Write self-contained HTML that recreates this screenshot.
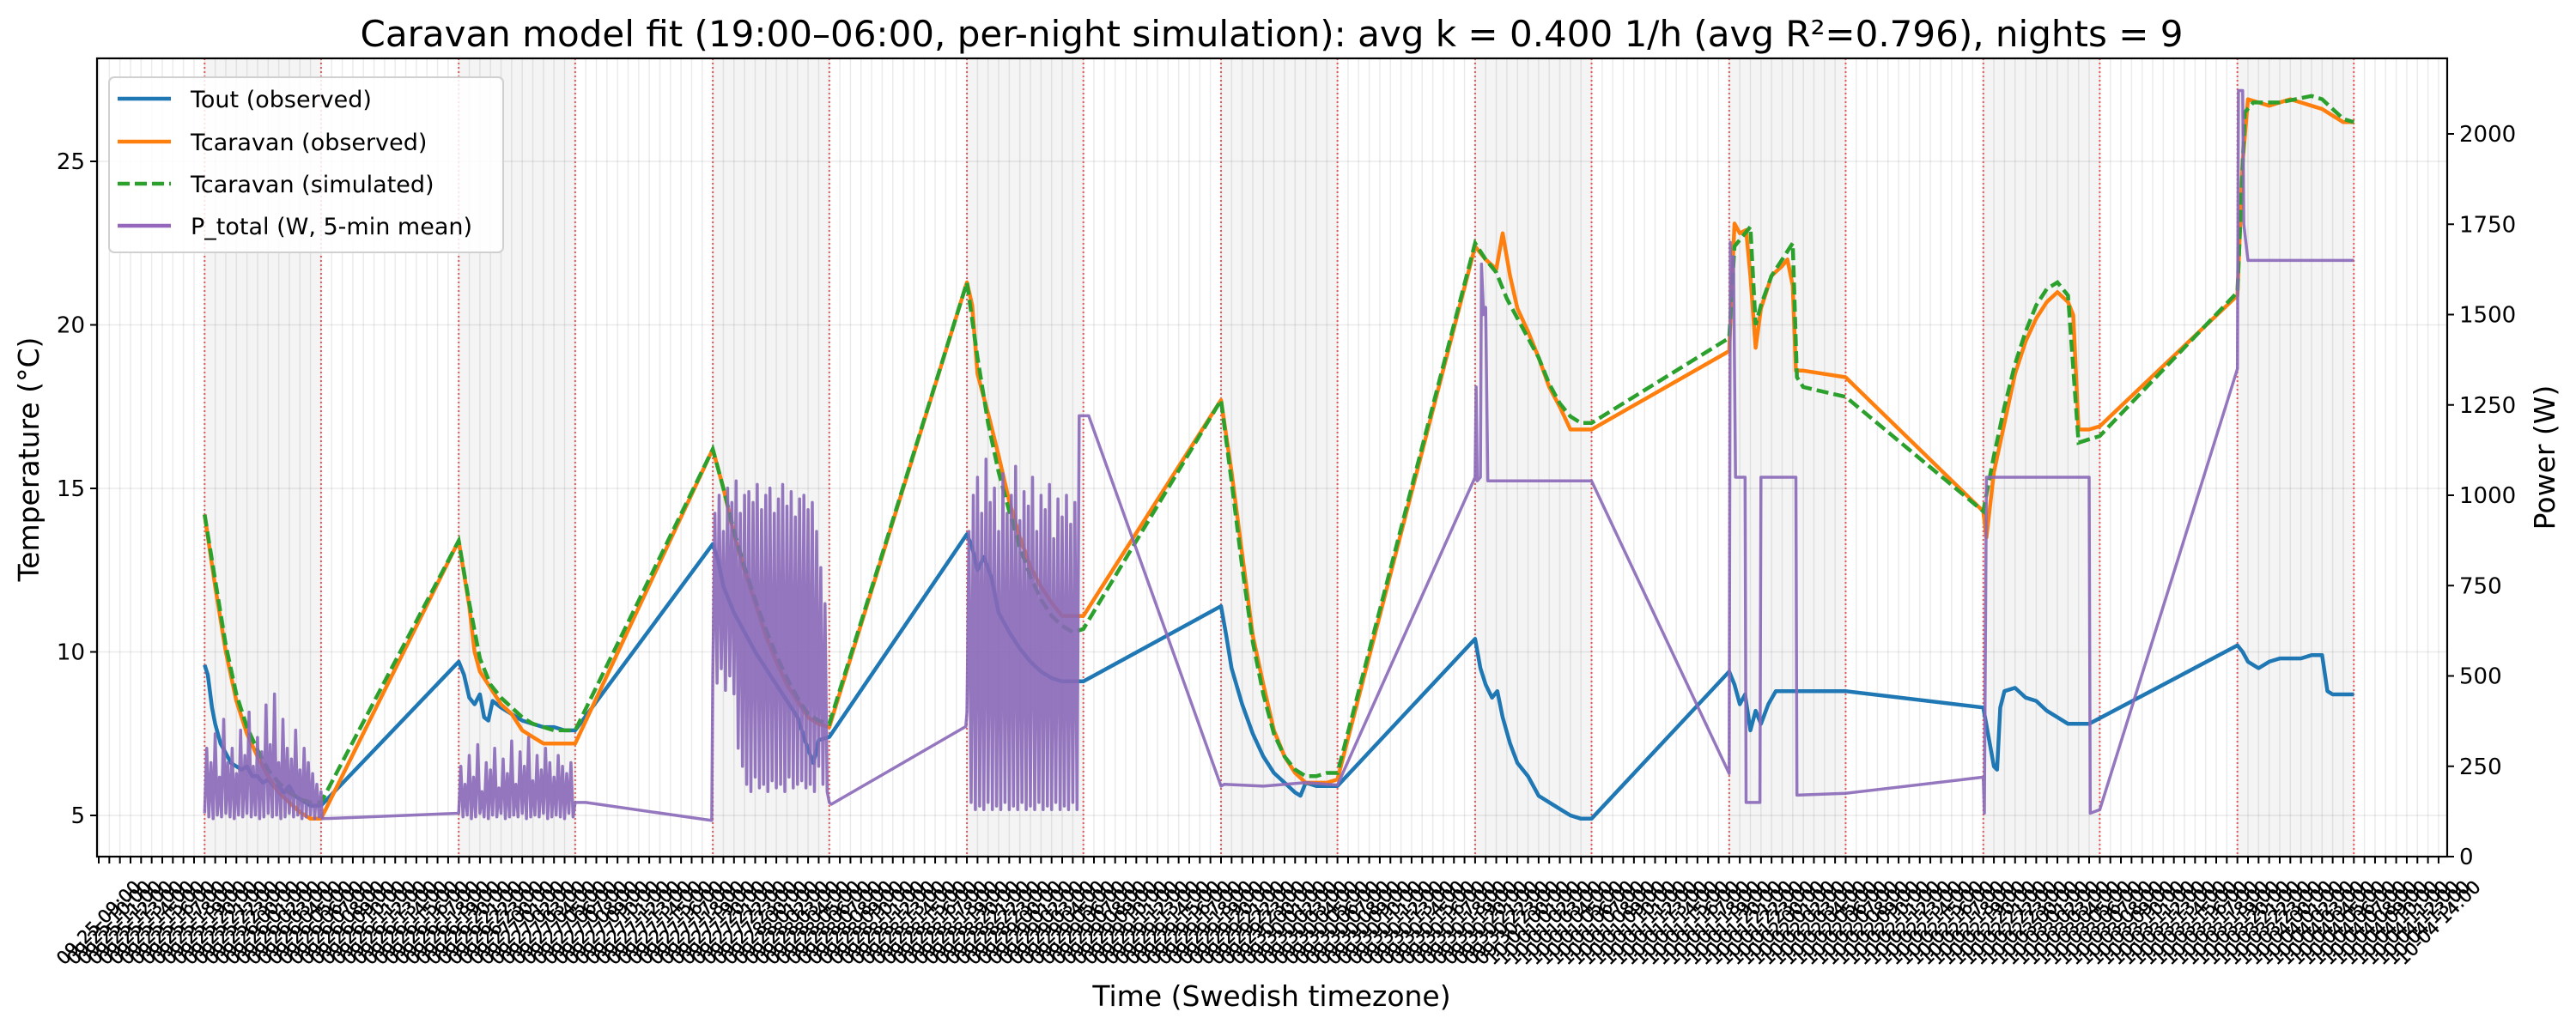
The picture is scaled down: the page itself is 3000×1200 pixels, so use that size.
<!DOCTYPE html>
<html><head><meta charset="utf-8">
<style>
html,body{margin:0;padding:0;background:#fff;}
svg{display:block;font-family:"DejaVu Sans","Liberation Sans",sans-serif;}
</style></head>
<body>
<svg id="chart" width="3000" height="1200" viewBox="0 0 3000 1200" xmlns="http://www.w3.org/2000/svg">
  <rect x="0" y="0" width="3000" height="1200" fill="#fff"/>
  <g id="shade"></g>
  <g id="grid"></g>
  <g id="nightlines"></g>
  <g id="series"></g>
  <rect x="113" y="68" width="2737" height="930" fill="none" stroke="#000" stroke-width="2.2"/>
  <g id="axes"></g>
  <text x="1481" y="54" font-size="42" text-anchor="middle">Caravan model fit (19:00–06:00, per-night simulation): avg k = 0.400 1/h (avg R²=0.796), nights = 9</text>
  <text transform="translate(45,535) rotate(-90)" font-size="33" text-anchor="middle">Temperature (°C)</text>
  <text transform="translate(2975,533) rotate(-90)" font-size="33" text-anchor="middle">Power (W)</text>
  <text x="1481" y="1172" font-size="33" text-anchor="middle">Time (Swedish timezone)</text>
  <g>
    <rect x="127" y="90" width="459" height="204" rx="6" fill="#fff" fill-opacity="0.85" stroke="#d0d0d0" stroke-width="2"/>
    <g><line x1="137" y1="115" x2="199" y2="115" stroke="#1f77b4" stroke-width="4.5"/><text x="222" y="125" font-size="27">Tout (observed)</text></g>
    <g><line x1="137" y1="165" x2="199" y2="165" stroke="#ff7f0e" stroke-width="4.5"/><text x="222" y="175" font-size="27">Tcaravan (observed)</text></g>
    <g><line x1="137" y1="214" x2="199" y2="214" stroke="#2ca02c" stroke-width="4.5" stroke-dasharray="14,6"/><text x="222" y="224" font-size="27">Tcaravan (simulated)</text></g>
    <g><line x1="137" y1="263" x2="199" y2="263" stroke="#9467bd" stroke-width="4.5"/><text x="222" y="273" font-size="27">P_total (W, 5-min mean)</text></g>
  </g>
</svg>
<script>
// ---- data (hours since 09-25 09:00) ----
const nightStarts = [10,34,58,82,106,130,154,178,202];
const nightLen = 11;
const tempTicks = [5,10,15,20,25];
const powerTicks = [0,250,500,750,1000,1250,1500,1750,2000];
const tickCount = 223;
const startDay = 25, startHour = 9;

const tout = [[10,9.6],[10.3,9.3],[10.7,8.3],[11,7.8],[11.5,7.2],[12,6.9],[12.5,6.6],[13,6.5],[13.5,6.4],[14,6.5],[14.5,6.2],[15,6.2],[15.5,6.0],[16,6.1],[16.5,5.9],[17,5.9],[17.5,5.7],[18,5.9],[18.5,5.6],[19,5.5],[20,5.3],[21,5.3],
[34,9.7],[34.5,9.3],[35,8.6],[35.5,8.4],[36,8.7],[36.4,8.0],[36.8,7.9],[37.2,8.5],[38,8.3],[39,8.1],[40,7.9],[41,7.8],[42,7.7],[43,7.7],[44,7.6],[45,7.6],
[58,13.3],[58.5,12.8],[59,12.0],[60,11.2],[61,10.6],[62,10.0],[63,9.5],[64,9.0],[65,8.5],[66,8.0],[66.8,7.2],[67.5,6.6],[68,7.3],[69,7.4],
[82,13.6],[82.5,13.2],[83,12.5],[83.6,12.9],[84.3,12.3],[85,11.2],[86,10.6],[87,10.1],[88,9.7],[89,9.4],[90,9.2],[91,9.1],[92,9.1],[93,9.1],
[106,11.4],[106.5,10.5],[107,9.5],[108,8.4],[109,7.5],[110,6.8],[111,6.3],[112,6.0],[113,5.7],[113.5,5.6],[114,6.0],[115,5.9],[116,5.9],[117,5.9],
[130,10.4],[130.5,9.5],[131,9.0],[131.6,8.6],[132.1,8.8],[132.6,8.0],[133.3,7.2],[134,6.6],[135,6.2],[136,5.6],[137,5.4],[138,5.2],[139,5.0],[140,4.9],[141,4.9],
[154,9.4],[154.5,9.0],[155,8.4],[155.5,8.7],[156,7.6],[156.5,8.2],[157,7.8],[157.7,8.4],[158.4,8.8],[160,8.8],[165,8.8],
[178,8.3],[178.5,7.4],[179,6.5],[179.3,6.4],[179.6,8.3],[180,8.8],[181,8.9],[182,8.6],[183,8.5],[184,8.2],[185,8.0],[186,7.8],[187,7.8],[188,7.8],
[202,10.2],[202.5,10.0],[203,9.7],[204,9.5],[205,9.7],[206,9.8],[207,9.8],[208,9.8],[209,9.9],[210,9.9],[210.5,8.8],[211,8.7],[212,8.7],[213,8.7]];

const tcar = [[10,14.2],[11,12.0],[12,10.0],[13,8.5],[14,7.5],[15,6.8],[16,6.2],[17,5.7],[18,5.4],[19,5.1],[20,4.9],[21,4.9],
[34,13.4],[35,11.4],[35.5,10.0],[36,9.4],[37,8.9],[38,8.4],[39,8.1],[40,7.6],[41,7.4],[42,7.2],[44,7.2],[45,7.2],
[58,16.2],[59,15.0],[60,13.6],[61,12.5],[62,11.5],[63,10.5],[64,9.7],[65,9.0],[66,8.5],[67,8.0],[68,7.8],[69,7.7],
[82,21.3],[82.5,20.6],[83,18.5],[84,17.3],[85,16.0],[86,14.6],[87,13.5],[88,12.6],[89,12.0],[90,11.5],[91,11.1],[92,11.1],[93,11.1],
[106,17.7],[107,15.5],[108,13.0],[109,10.5],[110,9.0],[111,7.6],[112,6.8],[113,6.3],[114,6.0],[115,6.0],[116,6.0],[117,6.1],
[130,22.4],[131,22.0],[132,21.7],[132.6,22.8],[133.3,21.5],[134,20.5],[135,19.8],[136,19.0],[137,18.1],[138,17.5],[139,16.8],[140,16.8],[141,16.8],
[154,19.2],[154.5,23.1],[155,22.8],[155.6,22.9],[156,21.5],[156.5,19.3],[157,20.5],[158,21.5],[159,21.8],[159.5,22.0],[160,21.2],[160.3,18.6],[161,18.6],[165,18.4],
[178,14.3],[178.3,13.5],[179,15.5],[180,17.0],[181,18.5],[182,19.5],[183,20.2],[184,20.7],[185,21.0],[186,20.7],[186.5,20.3],[187,16.8],[188,16.8],[189,16.9],
[202,20.9],[202.5,25.0],[203,26.9],[204,26.8],[205,26.7],[206,26.8],[207,26.9],[208,26.8],[209,26.7],[210,26.6],[211,26.4],[212,26.2],[213,26.2]];

const tsim = [[10,14.2],[11,12.2],[12,10.2],[13,8.7],[14,7.7],[15,7.0],[16,6.4],[17,6.0],[18,5.7],[19,5.5],[20,5.4],[21,5.4],
[34,13.4],[35,11.5],[36,9.8],[37,9.0],[38,8.6],[39,8.3],[40,8.0],[41,7.8],[42,7.7],[43,7.6],[45,7.6],
[58,16.2],[59,15.0],[60,13.7],[61,12.6],[62,11.6],[63,10.7],[64,9.9],[65,9.2],[66,8.6],[67,8.1],[68,7.9],[69,7.8],
[82,21.3],[83,19.0],[84,17.0],[85,15.5],[86,14.3],[87,13.2],[88,12.3],[89,11.6],[90,11.1],[91,10.8],[92,10.6],[93,10.7],
[106,17.7],[107,15.2],[108,12.6],[109,10.3],[110,8.7],[111,7.5],[112,6.8],[113,6.4],[114,6.2],[115,6.2],[116,6.3],[117,6.3],
[130,22.5],[131,22.0],[132,21.6],[133,20.8],[134,20.2],[135,19.6],[136,19.0],[137,18.2],[138,17.6],[139,17.2],[140,17.0],[141,17.0],
[154,19.6],[154.5,22.4],[155,22.6],[156,23.0],[156.5,20.0],[157,20.6],[158,21.5],[159,22.0],[160,22.5],[160.4,18.4],[161,18.1],[165,17.8],
[178,14.3],[179,16.0],[180,17.5],[181,18.8],[182,19.8],[183,20.6],[184,21.1],[185,21.3],[186,20.9],[187,16.4],[188,16.5],[189,16.6],
[202,21.0],[202.7,26.5],[203.5,26.8],[206,26.8],[209,27.0],[210,26.9],[212,26.3],[213,26.2]];

const powerStep = 0.2;
const pNight1 = [120,300,110,260,105,340,115,220,110,380,120,260,110,300,105,230,115,350,110,280,120,400,110,250,115,330,105,290,110,420,120,310,110,450,115,260,105,380,110,300,120,270,110,350,115,240,105,300,110,260,115,230,105,200,110,180];
const pNight2 = [120,250,110,200,115,280,105,220,110,310,120,180,110,260,105,240,115,300,110,190,120,270,105,230,110,320,115,200,110,290,120,250,105,330,110,210,115,280,110,240,120,300,105,260,110,220,115,280,110,250,105,230,120,260,110,150];
const pNight3 = [500,950,480,1000,520,900,460,1020,500,980,450,1040,300,950,250,1000,200,1010,180,980,220,1030,190,960,200,1000,180,1020,210,950,190,990,200,1030,180,970,220,1010,190,940,200,990,210,1000,190,960,200,980,180,900,250,800,200,700,180,150];
const pNight4 = [400,900,150,1000,130,1050,140,950,130,1100,150,980,130,1020,140,900,130,1060,150,950,130,1000,140,1080,130,930,150,1010,130,970,140,1050,130,900,150,1000,130,960,140,1030,130,880,150,990,130,940,140,1000,130,920,150,980,130];
const pAfter1 = [[21.1,105]];
const pAfter2 = [[45.1,150],[46,150],[57.9,100]];
const pAfter3 = [[69.2,145],[81.9,360]];
const pAfter4 = [[92.6,1220],[93.5,1220],[106,195],[106.3,200],[110,195],[114,205],[117,198],[130,1050],[130.1,1300],[130.2,1040],[130.5,1050],[130.6,1640],[130.8,1500],[131,1520],[131.2,1040],[141,1040],[154,230],[154.1,1700],[154.2,1550],[154.4,1660],[154.6,1050],[155.5,1050],[155.6,150],[156.9,150],[157,1050],[160.3,1050],[160.4,170],[165,175],[178,220],[178.1,120],[178.3,1050],[188,1050],[188.1,120],[189,130],[202,1350],[202.1,2120],[202.5,2120],[202.6,1750],[203,1650],[213,1650]];

// ---- scales ----
const X0 = 113, X1 = 2850, Y0 = 68, Y1 = 998;
const xs = h => 115 + h * 12.33;
const yt = t => 950 - (t - 5) * 38.1;
const yp = p => 998 - p * 0.421;
const NS = 'http://www.w3.org/2000/svg';
function mk(tag, attrs, parent) {
  const e = document.createElementNS(NS, tag);
  for (const k in attrs) e.setAttribute(k, attrs[k]);
  parent.appendChild(e);
  return e;
}
const shade = document.getElementById('shade');
const grid = document.getElementById('grid');
const nl = document.getElementById('nightlines');
const ser = document.getElementById('series');
const axes = document.getElementById('axes');

nightStarts.forEach(s => {
  const r = mk('rect', {x: xs(s), y: Y0, width: xs(s + nightLen) - xs(s), height: Y1 - Y0, fill: '#808080', 'fill-opacity': 0.09}, shade);
  
  
  [s, s + nightLen].forEach(h => {
    const l = mk('line', {x1: xs(h), x2: xs(h), y1: Y0, y2: Y1, stroke: '#e83030', 'stroke-opacity': 0.8, 'stroke-width': 2, 'stroke-dasharray': '2,3'}, nl);
    
    
  });
});

const pad = n => String(n).padStart(2, '0');
for (let i = 0; i < tickCount; i++) {
  const x = xs(i);
  if (x < X0 || x > X1) continue;
  const g = mk('line', {x1: x, x2: x, y1: Y0, y2: Y1, stroke: '#000', 'stroke-opacity': 0.08, 'stroke-width': 1.5}, grid);
  
  
  const t = mk('line', {x1: x, x2: x, y1: Y1, y2: Y1 + 8, stroke: '#000', 'stroke-width': 2}, axes);
  
  
  const tot = startHour + i;
  const day = startDay + Math.floor(tot / 24);
  const hr = tot % 24;
  const label = day > 30 ? '10-' + pad(day - 30) + ' ' + pad(hr) + ':00' : '09-' + pad(day) + ' ' + pad(hr) + ':00';
  const cy = 1075;
  const tx = mk('text', {x: x, y: cy, 'font-size': 21, 'text-anchor': 'middle', 'dominant-baseline': 'central', stroke: '#000', 'stroke-width': 0.4, transform: `rotate(-45 ${x} ${cy})`}, axes);
  tx.textContent = label;
  
  
}
tempTicks.forEach(v => {
  const y = yt(v);
  const g = mk('line', {x1: X0, x2: X1, y1: y, y2: y, stroke: '#000', 'stroke-opacity': 0.08, 'stroke-width': 1.5}, grid);
  
  
  const t = mk('line', {x1: X0 - 8, x2: X0, y1: y, y2: y, stroke: '#000', 'stroke-width': 2}, axes);
  
  
  const tx = mk('text', {x: X0 - 14, y: y + 9, 'font-size': 26, 'text-anchor': 'end'}, axes);
  tx.textContent = v;
  
  
});
powerTicks.forEach(v => {
  const y = yp(v);
  const t = mk('line', {x1: X1, x2: X1 + 8, y1: y, y2: y, stroke: '#000', 'stroke-width': 2}, axes);
  
  
  const tx = mk('text', {x: X1 + 14, y: y + 9, 'font-size': 26, 'text-anchor': 'start'}, axes);
  tx.textContent = v;
  
  
});

function pathT(arr) { return arr.map((p, i) => (i ? 'L' : 'M') + xs(p[0]).toFixed(1) + ',' + yt(p[1]).toFixed(1)).join(''); }
function noisy(start, vals) { return vals.map((v, i) => [start + i * powerStep, v]); }
const power = [].concat(noisy(10, pNight1), pAfter1, noisy(34, pNight2), pAfter2, noisy(58, pNight3), pAfter3, noisy(82, pNight4), pAfter4);

const pTout = mk('path', {d: pathT(tout), fill: 'none', stroke: '#1f77b4', 'stroke-width': 4.5, 'stroke-linejoin': 'round'}, ser);


const pCar = mk('path', {d: pathT(tcar), fill: 'none', stroke: '#ff7f0e', 'stroke-width': 4.5, 'stroke-linejoin': 'round'}, ser);


const pSim = mk('path', {d: pathT(tsim), fill: 'none', stroke: '#2ca02c', 'stroke-width': 4.5, 'stroke-dasharray': '14,6'}, ser);


const pPow = mk('path', {d: power.map((p, i) => (i ? 'L' : 'M') + xs(p[0]).toFixed(1) + ',' + yp(p[1]).toFixed(1)).join(''), fill: 'none', stroke: '#8a68b8', 'stroke-opacity': 0.9, 'stroke-width': 3.5, 'stroke-linejoin': 'round'}, ser);


</script>
</body></html>
